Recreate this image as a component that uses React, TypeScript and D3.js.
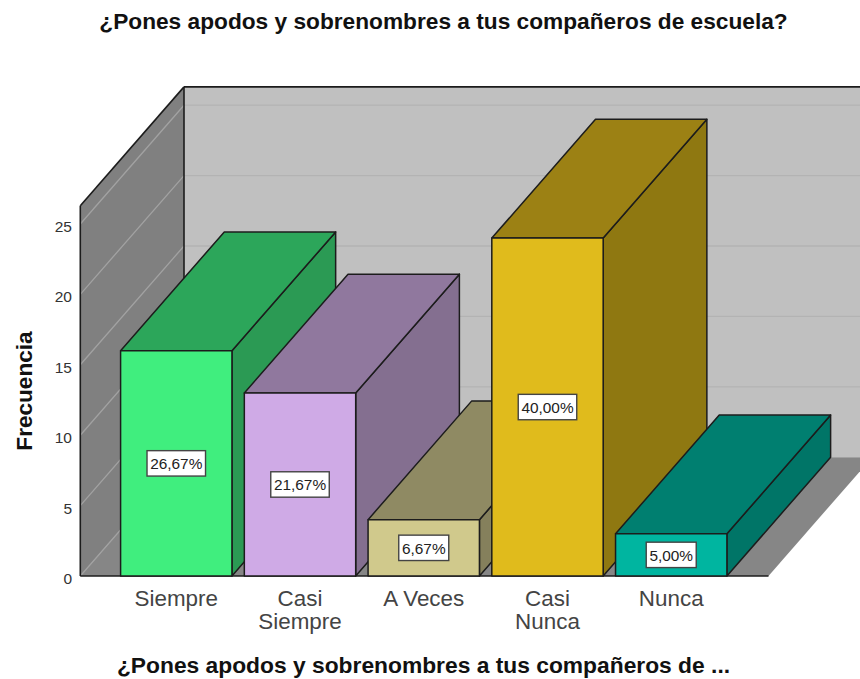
import React from "react";
import * as d3 from "d3";

const categories = ["Siempre", "Casi Siempre", "A Veces", "Casi Nunca", "Nunca"];
const categoryLines = [["Siempre"], ["Casi", "Siempre"], ["A Veces"], ["Casi", "Nunca"], ["Nunca"]];
const counts = [16, 13, 4, 24, 3];
const percentLabels = ["26,67%", "21,67%", "6,67%", "40,00%", "5,00%"];
const frontColors = ["#40ee7e", "#cfaae6", "#d0c98c", "#e0bb1c", "#00b5a0"];
const topColors = ["#2ca65a", "#90789e", "#8f8a63", "#9c8114", "#007f70"];
const sideColors = ["#2b9a54", "#846f90", "#85805c", "#8f7811", "#007567"];
const yTicks = [0, 5, 10, 15, 20, 25];
const yMax = 26.3;

const title = "¿Pones apodos y sobrenombres a tus compañeros de escuela?";
const xTitle = "¿Pones apodos y sobrenombres a tus compañeros de ...";
const yTitle = "Frecuencia";

const FONT = "'Liberation Sans', Arial, sans-serif";
const DX = 103.7;
const DY = -118.8;
const LINE = "#1c1c1c";

const y = d3.scaleLinear().domain([0, 5]).range([576, 505.6]);
const x = d3.scaleBand<string>().domain(categories).range([114.4, 733.1]).paddingInner(0.1).paddingOuter(0.05);
const x0 = 80.3;
const floorRight = 768.5;
const poly = (pts: number[][]) => (d3.line()(pts as [number, number][]) as string) + "Z";

export default function App() {
  const top = y(yMax);
  const bw = x.bandwidth();
  return (
    <svg width={860} height={679} style={{ position: "absolute", left: 0, top: 0, background: "#fff" }} fontFamily={FONT}>
      <text x={443.5} y={29} textAnchor="middle" fontSize={22.7} fontWeight="bold" fill="#111">{title}</text>

      {/* back wall */}
      <rect x={x0 + DX} y={top + DY} width={860} height={y(0) - top} fill="#c0c0c0" />
      {/* left wall */}
      <path d={poly([[x0, y(0)], [x0, top], [x0 + DX, top + DY], [x0 + DX, y(0) + DY]])} fill="#808080" />
      {/* floor */}
      <path d={poly([[x0, y(0)], [x0 + DX, y(0) + DY], [floorRight + DX, y(0) + DY], [floorRight, y(0)]])} fill="#868686" />

      {yTicks.map((t) => (
        <g key={t}>
          {t > 0 && <line x1={x0 + DX} x2={860} y1={y(t) + DY} y2={y(t) + DY} stroke="#b3b3b3" strokeWidth={1.3} />}
          <line x1={x0} y1={y(t)} x2={x0 + DX} y2={y(t) + DY} stroke="#a2a2a2" strokeWidth={1.3} />
          <text x={72} y={y(t) + 8} textAnchor="end" fontSize={15.5} fill="#333">{t}</text>
        </g>
      ))}

      <line x1={x0} x2={x0} y1={top} y2={y(0)} stroke={LINE} strokeWidth={1.6} />
      <line x1={x0} y1={top} x2={x0 + DX} y2={top + DY} stroke={LINE} strokeWidth={1.6} />
      <line x1={x0 + DX} x2={x0 + DX} y1={top + DY} y2={y(0) + DY} stroke={LINE} strokeWidth={1.6} />
      <line x1={x0 + DX} x2={860} y1={top + DY} y2={top + DY} stroke={LINE} strokeWidth={1.6} />
      <line x1={x0} x2={floorRight} y1={y(0)} y2={y(0)} stroke={LINE} strokeWidth={1.6} />

      {categories.map((c, i) => {
        const l = x(c) as number;
        const r = l + bw;
        const t = y(counts[i]);
        const b = y(0);
        return (
          <g key={c} stroke={LINE} strokeWidth={1.5} strokeLinejoin="round">
            <path d={poly([[r, b], [r, t], [r + DX, t + DY], [r + DX, b + DY]])} fill={sideColors[i]} />
            <path d={poly([[l, t], [l + DX, t + DY], [r + DX, t + DY], [r, t]])} fill={topColors[i]} />
            <rect x={l} y={t} width={bw} height={b - t} fill={frontColors[i]} />
          </g>
        );
      })}

      {categories.map((c, i) => {
        const cx = (x(c) as number) + bw / 2;
        const cy = (y(counts[i]) + y(0)) / 2;
        const w = percentLabels[i].length === 6 ? 58.5 : 50;
        return (
          <g key={c + "-label"}>
            <rect x={cx - w / 2} y={cy - 12.7} width={w} height={25.4} fill="#fff" stroke="#444" strokeWidth={1.4} />
            <text x={cx} y={cy + 5.7} textAnchor="middle" fontSize={15.4} fill="#222">{percentLabels[i]}</text>
          </g>
        );
      })}

      {categories.map((c, i) => {
        const cx = (x(c) as number) + bw / 2;
        return (
          <text key={c + "-tick"} textAnchor="middle" fontSize={22.4} fill="#444">
            {categoryLines[i].map((ln, j) => (
              <tspan key={j} x={cx} y={606 + j * 22.5}>{ln}</tspan>
            ))}
          </text>
        );
      })}

      <text x={423.5} y={673} textAnchor="middle" fontSize={22.8} fontWeight="bold" fill="#111">{xTitle}</text>
      <text transform="translate(32,391) rotate(-90)" textAnchor="middle" fontSize={22.6} fontWeight="bold" fill="#111">{yTitle}</text>
    </svg>
  );
}
